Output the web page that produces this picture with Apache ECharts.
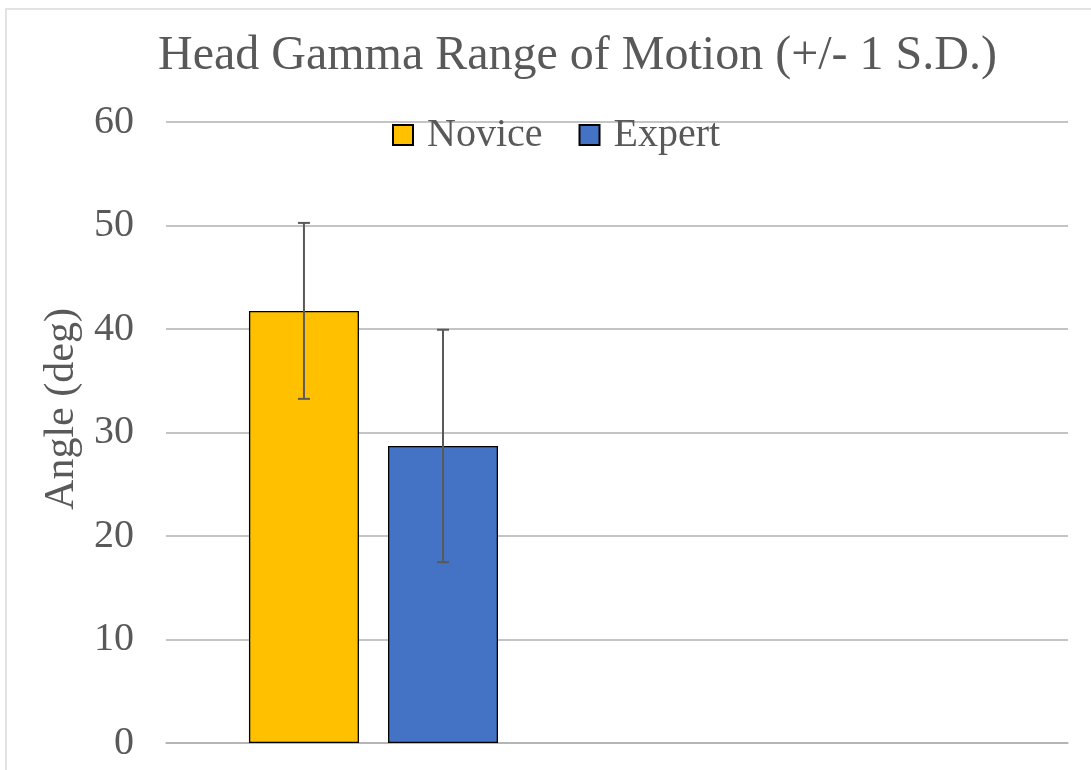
<html>
<head>
    <meta charset="utf-8">
    <title>Head Gamma Range of Motion</title>
    <script src="https://cdn.jsdelivr.net/npm/echarts@6/dist/echarts.min.js"></script>
    <style>
        html, body { margin: 0; padding: 0; background: #fff; }
    </style>
</head>
<body>
<div id="main" style="width: 1091px;height:770px;"></div>
<script>
    // data
    var categories = ['Head Gamma', ''];
    var seriesNames = ['Novice', 'Expert'];
    var novice = [41.75, null];
    var expert = [28.7, null];
    var noviceSD = [8.5, null];
    var expertSD = [11.23, null];
    var yTicks = [0, 10, 20, 30, 40, 50, 60];

    var font = 'Liberation Serif, Times New Roman, serif';
    var textColor = '#595959';
    var gridColor = '#B0B0B0';

    // bar layout (kept in one place so the error bars can follow the bars)
    var barW = 110;
    var gapPct = 0.264;
    var padW = 7;  // empty spacer series, pushes the pair left like in the original
    var totalW = barW * (1 + gapPct) * 2 + padW;
    function barOffset(i) {
        return -totalW / 2 + i * barW * (1 + gapPct) + barW / 2;
    }

    var errData = [];
    [novice, expert].forEach(function (vals, s) {
        var sd = s === 0 ? noviceSD : expertSD;
        vals.forEach(function (v, i) {
            if (v != null) errData.push([i, v - sd[i], v + sd[i], s]);
        });
    });

    var myChart = echarts.init(document.getElementById('main'));
    myChart.setOption({
        animation: false,
        backgroundColor: '#fff',
        graphic: [{
            type: 'rect',
            shape: { x: 6, y: 9, width: 1200, height: 900 },
            style: { fill: 'none', stroke: '#D9D9D9', lineWidth: 1.5 },
            silent: true
        }],
        title: {
            text: 'Head Gamma Range of Motion (+/- 1 S.D.)',
            left: 153,
            top: 27,
            textStyle: { fontFamily: font, fontSize: 48, fontWeight: 'normal', color: textColor }
        },
        legend: {
            data: seriesNames,
            left: 387,
            top: 110,
            icon: 'rect',
            itemWidth: 20,
            itemHeight: 20,
            itemGap: 36,
            textStyle: { fontFamily: font, fontSize: 40, color: textColor, padding: [0, 0, 0, 9] }
        },
        grid: { left: 166, right: 23, top: 122, bottom: 27, containLabel: false },
        xAxis: {
            type: 'category',
            data: categories,
            axisLine: { lineStyle: { color: gridColor, width: 1.5 } },
            axisTick: { show: false },
            axisLabel: { show: false }
        },
        yAxis: {
            type: 'value',
            min: yTicks[0],
            max: yTicks[yTicks.length - 1],
            interval: 10,
            name: 'Angle (deg)',
            nameLocation: 'middle',
            nameGap: 56,
            nameTextStyle: { fontFamily: font, fontSize: 42, color: textColor, padding: [0, 0, 0, 47] },
            axisLine: { show: false },
            axisTick: { show: false },
            axisLabel: { fontFamily: font, fontSize: 40, color: textColor, margin: 32 },
            splitLine: { lineStyle: { color: gridColor, width: 1.5 } }
        },
        series: [{
            name: 'Novice',
            type: 'bar',
            data: novice,
            barWidth: barW,
            barGap: (gapPct * 100) + '%',
            itemStyle: { color: '#FFC000', borderColor: '#000', borderWidth: 1.3 }
        }, {
            name: 'Expert',
            type: 'bar',
            data: expert,
            barWidth: barW,
            barGap: (gapPct * 100) + '%',
            itemStyle: { color: '#4472C4', borderColor: '#000', borderWidth: 1.3 }
        }, {
            name: 'spacer',
            type: 'bar',
            data: [],
            barWidth: padW,
            barGap: (gapPct * 100) + '%'
        }, {
            name: 'error',
            type: 'custom',
            data: errData,
            z: 10,
            renderItem: function (params, api) {
                var cat = api.value(0);
                var s = api.value(3);
                var lo = api.coord([cat, api.value(1)]);
                var hi = api.coord([cat, api.value(2)]);
                var x = lo[0] + barOffset(s);
                var cap = 6;
                var st = { stroke: '#595959', lineWidth: 2 };
                return {
                    type: 'group',
                    children: [
                        { type: 'line', shape: { x1: x, y1: lo[1], x2: x, y2: hi[1] }, style: st },
                        { type: 'line', shape: { x1: x - cap, y1: hi[1], x2: x + cap, y2: hi[1] }, style: st },
                        { type: 'line', shape: { x1: x - cap, y1: lo[1], x2: x + cap, y2: lo[1] }, style: st }
                    ]
                };
            }
        }]
    });
</script>
</body>
</html>
